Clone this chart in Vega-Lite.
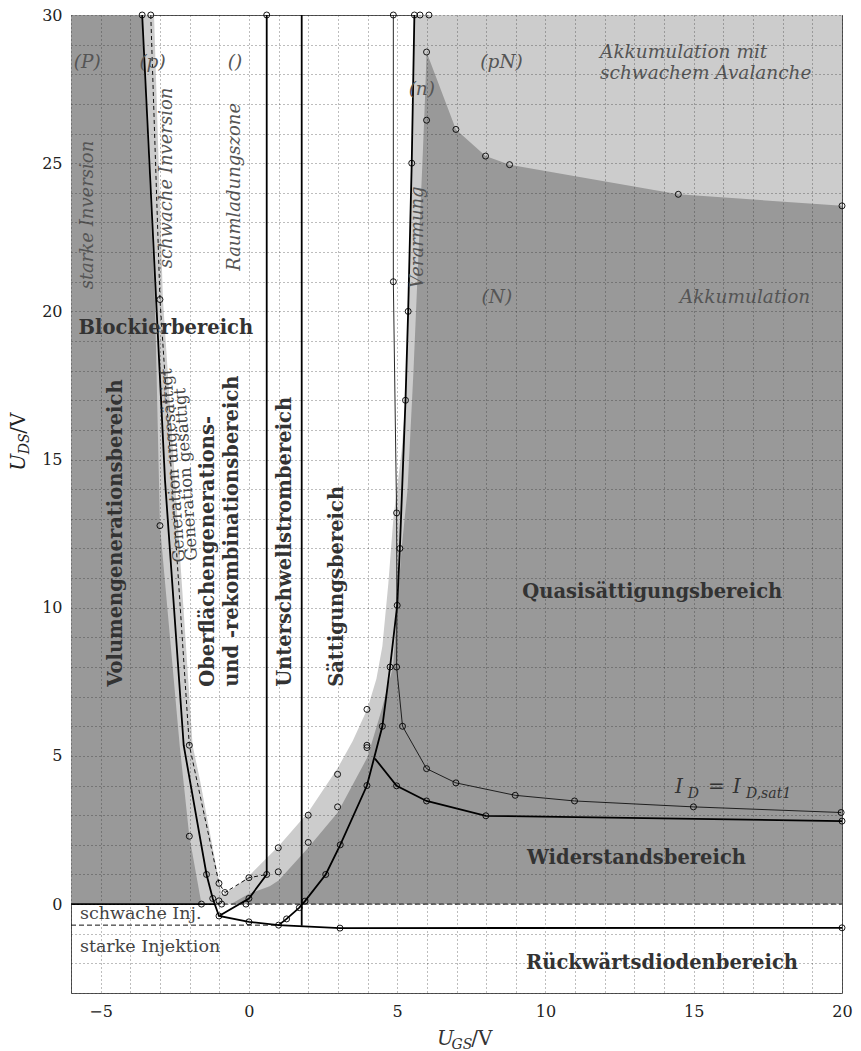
{
  "$schema": "https://vega.github.io/schema/vega-lite/v6.json",
  "width": 771,
  "height": 978,
  "autosize": "none",
  "padding": {"left": 71, "top": 15, "right": 19, "bottom": 58},
  "background": "white",
  "config": {"view": {"stroke": "#555", "strokeWidth": 1}},
  "datasets": {
    "regions": [
      {"r": "light", "i": 1, "x": -6, "y": 0},
      {"r": "light", "i": 2, "x": -6, "y": 30},
      {"r": "light", "i": 3, "x": -3.2, "y": 30},
      {"r": "light", "i": 4, "x": -2.9, "y": 20.4},
      {"r": "light", "i": 5, "x": -1.9, "y": 5.36},
      {"r": "light", "i": 6, "x": -1.65, "y": 4.18},
      {"r": "light", "i": 7, "x": -0.92, "y": 0.3},
      {"r": "light", "i": 8, "x": -0.5, "y": 0.55},
      {"r": "light", "i": 9, "x": 0, "y": 0.95},
      {"r": "light", "i": 10, "x": 1, "y": 1.95},
      {"r": "light", "i": 11, "x": 2, "y": 3.1},
      {"r": "light", "i": 12, "x": 3, "y": 4.6},
      {"r": "light", "i": 13, "x": 3.5, "y": 5.5},
      {"r": "light", "i": 14, "x": 4, "y": 6.6},
      {"r": "light", "i": 15, "x": 4.3, "y": 7.6},
      {"r": "light", "i": 16, "x": 4.5, "y": 8.7},
      {"r": "light", "i": 17, "x": 4.7, "y": 10.8},
      {"r": "light", "i": 18, "x": 4.87, "y": 13},
      {"r": "light", "i": 19, "x": 5.15, "y": 15.3},
      {"r": "light", "i": 20, "x": 5.28, "y": 17},
      {"r": "light", "i": 21, "x": 5.37, "y": 20},
      {"r": "light", "i": 22, "x": 5.49, "y": 25},
      {"r": "light", "i": 23, "x": 5.58, "y": 30},
      {"r": "light", "i": 24, "x": 20, "y": 30},
      {"r": "light", "i": 25, "x": 20, "y": 0},
      {"r": "darkR", "i": 1, "x": -0.6, "y": 0},
      {"r": "darkR", "i": 2, "x": 0, "y": 0.35},
      {"r": "darkR", "i": 3, "x": 0.7, "y": 0.6},
      {"r": "darkR", "i": 4, "x": 1, "y": 0.8},
      {"r": "darkR", "i": 5, "x": 2, "y": 1.9},
      {"r": "darkR", "i": 6, "x": 3, "y": 3.1},
      {"r": "darkR", "i": 7, "x": 4, "y": 4.96},
      {"r": "darkR", "i": 8, "x": 4.47, "y": 6.54},
      {"r": "darkR", "i": 9, "x": 4.86, "y": 8},
      {"r": "darkR", "i": 10, "x": 5.0, "y": 10},
      {"r": "darkR", "i": 11, "x": 5.15, "y": 12},
      {"r": "darkR", "i": 12, "x": 5.35, "y": 14},
      {"r": "darkR", "i": 13, "x": 5.55, "y": 18},
      {"r": "darkR", "i": 14, "x": 5.72, "y": 22},
      {"r": "darkR", "i": 15, "x": 5.85, "y": 25},
      {"r": "darkR", "i": 16, "x": 5.95, "y": 27.5},
      {"r": "darkR", "i": 17, "x": 5.99, "y": 28.75},
      {"r": "darkR", "i": 18, "x": 6.98, "y": 26.14},
      {"r": "darkR", "i": 19, "x": 7.98, "y": 25.24},
      {"r": "darkR", "i": 20, "x": 8.79, "y": 24.95},
      {"r": "darkR", "i": 21, "x": 14.48, "y": 23.95},
      {"r": "darkR", "i": 22, "x": 20, "y": 23.56},
      {"r": "darkR", "i": 23, "x": 20, "y": 0},
      {"r": "darkL", "i": 1, "x": -6, "y": 0},
      {"r": "darkL", "i": 2, "x": -6, "y": 30},
      {"r": "darkL", "i": 3, "x": -3.62, "y": 30},
      {"r": "darkL", "i": 4, "x": -3.17, "y": 20.4},
      {"r": "darkL", "i": 5, "x": -3.0, "y": 12.77},
      {"r": "darkL", "i": 6, "x": -2.33, "y": 5.3},
      {"r": "darkL", "i": 7, "x": -2.01, "y": 2.29},
      {"r": "darkL", "i": 8, "x": -1.6, "y": 0}
    ],
    "lines": [
      {"s": "A", "i": 1, "x": -3.6, "y": 30},
      {"s": "A", "i": 2, "x": -3.11, "y": 20},
      {"s": "A", "i": 3, "x": -2.83, "y": 14.3},
      {"s": "A", "i": 4, "x": -2.2, "y": 5.36},
      {"s": "A", "i": 5, "x": -1.43, "y": 1.0},
      {"s": "A", "i": 6, "x": -1.22, "y": 0.19},
      {"s": "A", "i": 7, "x": -1.01, "y": -0.4},
      {"s": "A", "i": 8, "x": 0, "y": -0.6},
      {"s": "A", "i": 9, "x": 1, "y": -0.71},
      {"s": "A", "i": 10, "x": 3.07, "y": -0.81},
      {"s": "A", "i": 11, "x": 20, "y": -0.8},
      {"s": "B", "i": 1, "x": -1.01, "y": -0.4},
      {"s": "B", "i": 2, "x": 0, "y": 0.19},
      {"s": "B", "i": 3, "x": 0.6, "y": 1.0},
      {"s": "B", "i": 4, "x": 0.6, "y": 30},
      {"s": "C", "i": 1, "x": 1.78, "y": -0.73},
      {"s": "C", "i": 2, "x": 1.78, "y": 30},
      {"s": "R", "i": 1, "x": 1, "y": -0.71},
      {"s": "R", "i": 2, "x": 1.27, "y": -0.5},
      {"s": "R", "i": 3, "x": 1.7, "y": -0.12},
      {"s": "R", "i": 4, "x": 1.89, "y": 0.1},
      {"s": "R", "i": 5, "x": 2.59, "y": 1},
      {"s": "R", "i": 6, "x": 3.08, "y": 2},
      {"s": "R", "i": 7, "x": 3.98, "y": 4},
      {"s": "R", "i": 8, "x": 4.5, "y": 6},
      {"s": "R", "i": 9, "x": 4.76, "y": 8},
      {"s": "R", "i": 10, "x": 5.0, "y": 10.08},
      {"s": "R", "i": 11, "x": 5.09, "y": 12},
      {"s": "R", "i": 12, "x": 5.28, "y": 17},
      {"s": "R", "i": 13, "x": 5.37, "y": 20},
      {"s": "R", "i": 14, "x": 5.49, "y": 25},
      {"s": "R", "i": 15, "x": 5.58, "y": 30},
      {"s": "S", "i": 1, "x": 4.25, "y": 4.91},
      {"s": "S", "i": 2, "x": 4.98, "y": 3.99},
      {"s": "S", "i": 3, "x": 5.99, "y": 3.48},
      {"s": "S", "i": 4, "x": 7.99, "y": 2.98},
      {"s": "S", "i": 5, "x": 20, "y": 2.8},
      {"s": "Z", "i": 1, "x": -6, "y": 0},
      {"s": "Z", "i": 2, "x": -1.15, "y": 0},
      {"s": "T", "i": 1, "x": 4.87, "y": 30},
      {"s": "T", "i": 2, "x": 4.87, "y": 21},
      {"s": "T", "i": 3, "x": 4.98, "y": 13.2},
      {"s": "T", "i": 4, "x": 4.99, "y": 10.1},
      {"s": "T", "i": 5, "x": 4.98, "y": 8},
      {"s": "T", "i": 6, "x": 5.18, "y": 6},
      {"s": "T", "i": 7, "x": 5.99, "y": 4.57},
      {"s": "T", "i": 8, "x": 6.98, "y": 4.09},
      {"s": "T", "i": 9, "x": 8.98, "y": 3.67},
      {"s": "T", "i": 10, "x": 10.98, "y": 3.48},
      {"s": "T", "i": 11, "x": 14.99, "y": 3.28},
      {"s": "T", "i": 12, "x": 19.97, "y": 3.09},
      {"s": "D1", "i": 1, "x": -3.31, "y": 30},
      {"s": "D1", "i": 2, "x": -3.0, "y": 20.4},
      {"s": "D1", "i": 3, "x": -2.01, "y": 5.36},
      {"s": "D1", "i": 4, "x": -1.01, "y": 0.7},
      {"s": "D1", "i": 5, "x": -0.81, "y": 0.39},
      {"s": "D1", "i": 6, "x": 0, "y": 0.89},
      {"s": "D1", "i": 7, "x": 0.6, "y": 1.0},
      {"s": "D2", "i": 1, "x": -1.15, "y": 0},
      {"s": "D2", "i": 2, "x": 20, "y": 0},
      {"s": "D3", "i": 1, "x": -6, "y": -0.71},
      {"s": "D3", "i": 2, "x": 1, "y": -0.71}
    ],
    "pts": [
      {"x": -3.6, "y": 30}, {"x": -3.31, "y": 30}, {"x": 0.6, "y": 30}, {"x": 4.87, "y": 30},
      {"x": 5.58, "y": 30}, {"x": 5.77, "y": 30}, {"x": 6.07, "y": 30},
      {"x": 5.99, "y": 28.75}, {"x": 5.99, "y": 26.45}, {"x": 6.98, "y": 26.14}, {"x": 7.98, "y": 25.24},
      {"x": 8.79, "y": 24.95}, {"x": 14.48, "y": 23.95}, {"x": 20, "y": 23.56},
      {"x": 5.49, "y": 25}, {"x": 5.37, "y": 20}, {"x": 5.28, "y": 17}, {"x": 5.09, "y": 12},
      {"x": 5.0, "y": 10.08}, {"x": 4.76, "y": 8}, {"x": 4.5, "y": 6}, {"x": 3.98, "y": 4},
      {"x": 3.08, "y": 2}, {"x": 2.59, "y": 1}, {"x": 1.89, "y": 0.1}, {"x": 1.7, "y": -0.12},
      {"x": 1.27, "y": -0.5}, {"x": 1, "y": -0.71},
      {"x": 4.87, "y": 21}, {"x": 4.98, "y": 13.2}, {"x": 4.98, "y": 8}, {"x": 5.18, "y": 6},
      {"x": 5.99, "y": 4.57}, {"x": 6.98, "y": 4.09}, {"x": 8.98, "y": 3.67}, {"x": 10.98, "y": 3.48},
      {"x": 14.99, "y": 3.28}, {"x": 19.97, "y": 3.09},
      {"x": 4.98, "y": 3.99}, {"x": 5.99, "y": 3.48}, {"x": 7.99, "y": 2.98}, {"x": 20, "y": 2.8},
      {"x": -1.01, "y": -0.4}, {"x": 0, "y": -0.6}, {"x": 3.07, "y": -0.81}, {"x": 20, "y": -0.8},
      {"x": -3.0, "y": 20.4}, {"x": -3.0, "y": 12.77}, {"x": -2.01, "y": 5.36}, {"x": -2.01, "y": 2.29},
      {"x": -1.43, "y": 1.0}, {"x": -1.6, "y": 0}, {"x": -1.22, "y": 0.19}, {"x": -1.01, "y": 0.7},
      {"x": -1.01, "y": 0.11}, {"x": -0.92, "y": 0}, {"x": -0.81, "y": 0.39}, {"x": 0, "y": 0.89},
      {"x": 0, "y": 0.19}, {"x": -0.1, "y": 0}, {"x": 0.6, "y": 1.0},
      {"x": 0.99, "y": 1.9}, {"x": 0.99, "y": 1.09}, {"x": 2, "y": 3.0}, {"x": 2, "y": 2.08},
      {"x": 2.99, "y": 4.38}, {"x": 2.99, "y": 3.28}, {"x": 3.98, "y": 6.57}, {"x": 3.98, "y": 5.36},
      {"x": 3.98, "y": 5.28}
    ],
    "tB": [
      {"t": "Blockierbereich", "x": -2.8, "y": 19.45},
      {"t": "Quasisättigungsbereich", "x": 13.6, "y": 10.54},
      {"t": "Widerstandsbereich", "x": 13.07, "y": 1.55},
      {"t": "Rückwärtsdiodenbereich", "x": 13.93, "y": -2.0}
    ],
    "tBV": [
      {"t": "Volumengenerationsbereich", "x": -4.49, "y": 7.33},
      {"t": "Oberflächengenerations-", "x": -1.38, "y": 7.33},
      {"t": "und -rekombinationsbereich", "x": -0.57, "y": 7.33},
      {"t": "Unterschwellstrombereich", "x": 1.21, "y": 7.33},
      {"t": "Sättigungsbereich", "x": 2.97, "y": 7.33}
    ],
    "tI": [
      {"t": "(P)", "x": -5.45, "y": 28.4},
      {"t": "(p)", "x": -3.25, "y": 28.4},
      {"t": "()", "x": -0.47, "y": 28.4},
      {"t": "(pN)", "x": 8.52, "y": 28.4},
      {"t": "(n)", "x": 5.83, "y": 27.5},
      {"t": "(N)", "x": 8.36, "y": 20.47},
      {"t": "Akkumulation", "x": 16.73, "y": 20.47}
    ],
    "tIL": [
      {"t": "Akkumulation mit", "x": 11.84, "y": 28.74},
      {"t": "schwachem Avalanche", "x": 11.84, "y": 28.03}
    ],
    "tIV": [
      {"t": "starke Inversion", "x": -5.43, "y": 23.25},
      {"t": "schwache Inversion", "x": -2.77, "y": 24.5},
      {"t": "Raumladungszone", "x": -0.47, "y": 24.2},
      {"t": "Verarmung", "x": 5.7, "y": 22.5}
    ],
    "tR": [
      {"t": "schwache Inj.", "x": -5.7, "y": -0.34},
      {"t": "starke Injektion", "x": -5.7, "y": -1.45}
    ],
    "tRV": [
      {"t": "Generation ungesättigt", "x": -2.56, "y": 14.8},
      {"t": "Generation gesättigt", "x": -2.12, "y": 14.5}
    ],
    "mI": [
      {"t": "I", "x": 14.37, "y": 3.75},
      {"t": "I", "x": 16.32, "y": 3.75},
      {"t": "U", "x": 6.34, "y": -4.76}
    ],
    "mS": [
      {"t": "D", "x": 14.8, "y": 3.58},
      {"t": "D,sat1", "x": 16.76, "y": 3.58},
      {"t": "GS", "x": 6.83, "y": -4.9}
    ],
    "mR": [
      {"t": "=", "x": 15.48, "y": 3.75},
      {"t": "/V", "x": 7.5, "y": -4.76}
    ],
    "yI": [{"t": "U", "x": -7.55, "y": 14.62}],
    "yS": [{"t": "DS", "x": -7.42, "y": 15.18}],
    "yR": [{"t": "/V", "x": -7.55, "y": 15.87}]
  },
  "encoding": {
    "x": {
      "field": "x", "type": "quantitative",
      "scale": {"domain": [-6, 20], "nice": false, "zero": false},
      "axis": {
        "values": [-6,-5,-4,-3,-2,-1,0,1,2,3,4,5,6,7,8,9,10,11,12,13,14,15,16,17,18,19,20],
        "labelExpr": "datum.value % 5 === 0 ? datum.label : ''",
        "ticks": false, "domain": false, "grid": true,
        "gridDash": [1, 3], "gridColor": "#222", "gridWidth": 1, "gridOpacity": 0.6,
        "labelFont": "DejaVu Serif", "labelFontSize": 16, "labelColor": "#222",
        "labelPadding": 10, "labelFlush": false, "labelOverlap": false,
        "title": null, "zindex": 1
      }
    },
    "y": {
      "field": "y", "type": "quantitative",
      "scale": {"domain": [-3, 30], "nice": false, "zero": false},
      "axis": {
        "values": [-3,-2,-1,0,1,2,3,4,5,6,7,8,9,10,11,12,13,14,15,16,17,18,19,20,21,22,23,24,25,26,27,28,29,30],
        "labelExpr": "datum.value % 5 === 0 ? datum.label : ''",
        "ticks": false, "domain": false, "grid": true,
        "gridDash": [1, 3], "gridColor": "#222", "gridWidth": 1, "gridOpacity": 0.6,
        "labelFont": "DejaVu Serif", "labelFontSize": 16, "labelColor": "#222",
        "labelPadding": 9, "labelFlush": false, "labelOverlap": false,
        "title": null, "zindex": 1
      }
    }
  },
  "layer": [
    {
      "data": {"name": "regions"},
      "transform": [{"filter": "datum.r === 'light'"}],
      "mark": {"type": "line", "fill": "#cccccc", "stroke": "#cccccc", "strokeWidth": 0},
      "encoding": {"order": {"field": "i", "type": "quantitative"}}
    },
    {
      "data": {"name": "regions"},
      "transform": [{"filter": "datum.r === 'darkR'"}],
      "mark": {"type": "line", "fill": "#999999", "stroke": "#999999", "strokeWidth": 0},
      "encoding": {"order": {"field": "i", "type": "quantitative"}}
    },
    {
      "data": {"name": "regions"},
      "transform": [{"filter": "datum.r === 'darkL'"}],
      "mark": {"type": "line", "fill": "#999999", "stroke": "#999999", "strokeWidth": 0},
      "encoding": {"order": {"field": "i", "type": "quantitative"}}
    },
    {
      "data": {"name": "lines"},
      "transform": [{"filter": "datum.s === 'D1'"}],
      "mark": {"type": "line", "color": "#111", "strokeWidth": 1, "strokeDash": [4, 3]},
      "encoding": {"detail": {"field": "s"}, "order": {"field": "i", "type": "quantitative"}}
    },
    {
      "data": {"name": "lines"},
      "transform": [{"filter": "datum.s === 'D2' || datum.s === 'D3'"}],
      "mark": {"type": "line", "color": "#111", "strokeWidth": 1, "strokeDash": [5, 3]},
      "encoding": {"detail": {"field": "s"}, "order": {"field": "i", "type": "quantitative"}}
    },
    {
      "data": {"name": "lines"},
      "transform": [{"filter": "datum.s === 'T'"}],
      "mark": {"type": "line", "color": "#111", "strokeWidth": 0.9},
      "encoding": {"detail": {"field": "s"}, "order": {"field": "i", "type": "quantitative"}}
    },
    {
      "data": {"name": "lines"},
      "transform": [{"filter": "indexof(['A','B','C','R','S','Z'], datum.s) >= 0"}],
      "mark": {"type": "line", "color": "#000", "strokeWidth": 1.8},
      "encoding": {"detail": {"field": "s"}, "order": {"field": "i", "type": "quantitative"}}
    },
    {
      "data": {"name": "pts"},
      "mark": {"type": "point", "shape": "circle", "filled": false, "stroke": "#000", "strokeWidth": 0.9, "size": 36, "opacity": 1}
    },
    {
      "data": {"name": "tB"},
      "mark": {"type": "text", "font": "DejaVu Serif", "fontWeight": "bold", "fontSize": 19.5, "fill": "#333", "align": "center", "baseline": "middle"},
      "encoding": {"text": {"field": "t"}}
    },
    {
      "data": {"name": "tBV"},
      "mark": {"type": "text", "font": "DejaVu Serif", "fontWeight": "bold", "fontSize": 19.5, "fill": "#333", "align": "left", "baseline": "middle", "angle": 270},
      "encoding": {"text": {"field": "t"}}
    },
    {
      "data": {"name": "tI"},
      "mark": {"type": "text", "font": "DejaVu Serif", "fontStyle": "italic", "fontSize": 18.5, "fill": "#555", "align": "center", "baseline": "middle"},
      "encoding": {"text": {"field": "t"}}
    },
    {
      "data": {"name": "tIL"},
      "mark": {"type": "text", "font": "DejaVu Serif", "fontStyle": "italic", "fontSize": 18.5, "fill": "#555", "align": "left", "baseline": "middle"},
      "encoding": {"text": {"field": "t"}}
    },
    {
      "data": {"name": "tIV"},
      "mark": {"type": "text", "font": "DejaVu Serif", "fontStyle": "italic", "fontSize": 18, "fill": "#555", "align": "center", "baseline": "middle", "angle": 270},
      "encoding": {"text": {"field": "t"}}
    },
    {
      "data": {"name": "tR"},
      "mark": {"type": "text", "font": "DejaVu Serif", "fontSize": 17.5, "fill": "#444", "align": "left", "baseline": "middle"},
      "encoding": {"text": {"field": "t"}}
    },
    {
      "data": {"name": "tRV"},
      "mark": {"type": "text", "font": "DejaVu Serif", "fontSize": 16.5, "fill": "#444", "align": "center", "baseline": "middle", "angle": 266},
      "encoding": {"text": {"field": "t"}}
    },
    {
      "data": {"name": "mI"},
      "mark": {"type": "text", "font": "DejaVu Serif", "fontStyle": "italic", "fontSize": 20, "fill": "#333", "align": "left", "baseline": "alphabetic"},
      "encoding": {"text": {"field": "t"}}
    },
    {
      "data": {"name": "mS"},
      "mark": {"type": "text", "font": "DejaVu Serif", "fontStyle": "italic", "fontSize": 14, "fill": "#333", "align": "left", "baseline": "alphabetic"},
      "encoding": {"text": {"field": "t"}}
    },
    {
      "data": {"name": "mR"},
      "mark": {"type": "text", "font": "DejaVu Serif", "fontSize": 20, "fill": "#333", "align": "left", "baseline": "alphabetic"},
      "encoding": {"text": {"field": "t"}}
    },
    {
      "data": {"name": "yI"},
      "mark": {"type": "text", "font": "DejaVu Serif", "fontStyle": "italic", "fontSize": 20, "fill": "#222", "align": "left", "baseline": "alphabetic", "angle": 270},
      "encoding": {"text": {"field": "t"}}
    },
    {
      "data": {"name": "yS"},
      "mark": {"type": "text", "font": "DejaVu Serif", "fontStyle": "italic", "fontSize": 14, "fill": "#222", "align": "left", "baseline": "alphabetic", "angle": 270},
      "encoding": {"text": {"field": "t"}}
    },
    {
      "data": {"name": "yR"},
      "mark": {"type": "text", "font": "DejaVu Serif", "fontSize": 20, "fill": "#222", "align": "left", "baseline": "alphabetic", "angle": 270},
      "encoding": {"text": {"field": "t"}}
    }
  ]
}
